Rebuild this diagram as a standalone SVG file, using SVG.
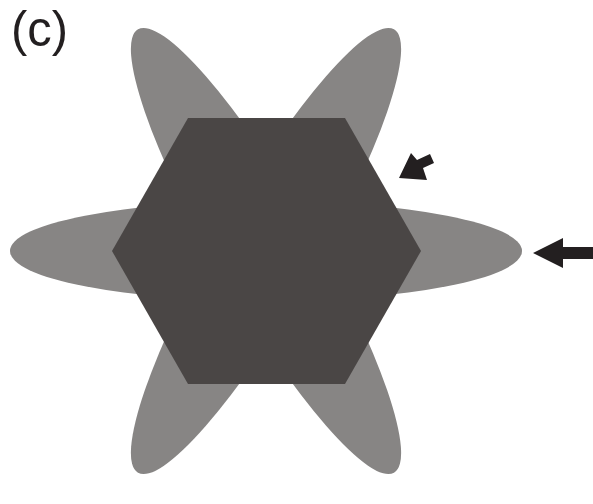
<svg xmlns="http://www.w3.org/2000/svg" width="593" height="504" viewBox="0 0 593 504">
<style>
.petal{fill:#878584}
.hex{fill:#4a4645}
.arr{fill:#231f20}
.lbl{font-family:"Liberation Sans",Arial,sans-serif;font-size:50px;fill:#231f20}
</style>
<rect width="593" height="504" fill="#fff"/>
<g id="petals">
<ellipse class="petal" cx="266" cy="251" rx="256" ry="50"/>
<ellipse class="petal" cx="266" cy="251" rx="256" ry="50" transform="rotate(-60 266 251)"/>
<ellipse class="petal" cx="266" cy="251" rx="256" ry="50" transform="rotate(60 266 251)"/>
</g>
<g id="hexagon">
<polygon class="hex" points="112,251 188,118 345,118 421,251 345,384 188,384"/>
</g>
<g id="connectors">
<polygon class="arr" points="533,253 563,238 563,247 593,247 593,259 563,259 563,268"/>
<polygon class="arr" points="399,178 411,153 417,160 430,154 434,163 423,168 427,180"/>
</g>
<g id="label">
<text class="lbl" x="11" y="46" textLength="57" lengthAdjust="spacingAndGlyphs">(c)</text>
</g>
</svg>
